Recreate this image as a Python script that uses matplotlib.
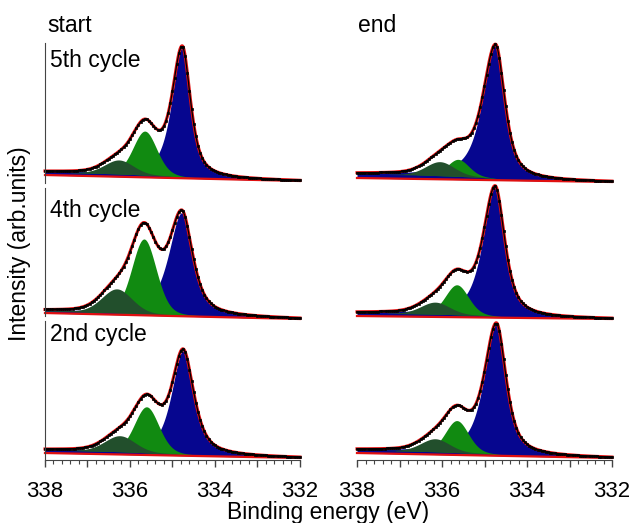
import numpy as np
import matplotlib
matplotlib.use('Agg')
import matplotlib.pyplot as plt
from matplotlib.ticker import MultipleLocator

plt.rcParams['font.family'] = ['Liberation Sans', 'DejaVu Sans']

# ---------------- data ----------------
column_titles = ['start', 'end']
row_labels = ['5th cycle', '4th cycle', '2nd cycle']
x_tick_values = [338, 337, 336, 335, 334, 333, 332]
x_tick_labels = ['338', '', '336', '', '334', '', '332']
x_label = 'Binding energy (eV)'
y_label = 'Intensity (arb.units)'

# indices: [row][col]; rows = 5th, 4th, 2nd cycle; cols = start, end
blue_center = [[334.77, 334.74], [334.78, 334.75], [334.75, 334.72]]
blue_height = [[130, 134], [103, 130], [104, 131]]
blue_hw_left = [[0.29, 0.36], [0.37, 0.34], [0.32, 0.34]]
blue_hw_right = [[0.23, 0.26], [0.30, 0.27], [0.30, 0.27]]

green_center = [[335.65, 335.62], [335.67, 335.65], [335.61, 335.65]]
green_height = [[44, 17], [75, 30], [46, 32]]
green_hw = [[0.33, 0.30], [0.34, 0.32], [0.34, 0.32]]

dkgreen_center = [[336.26, 336.05], [336.31, 336.16], [336.24, 336.16]]
dkgreen_height = [[14, 14], [24, 12], [16, 13]]
dkgreen_hw = [[0.40, 0.40], [0.42, 0.40], [0.42, 0.40]]

shirley_step = [[3, 4], [2, 3], [3, 3]]
baseline_tilt = [[6, 4], [6, 3], [5, 5]]

# ---------------- layout (pixels) ----------------
W, H = 634, 523
col_left = [45, 357]
col_width = 255
row_box = [(43, 183), (188, 316), (321, 460)]
row_base = [[181, 182], [319, 319], [458, 458]]

C_BLUE = '#06068f'
C_GREEN = '#118a11'
C_DKGREEN = '#224f2c'
C_RED = '#e01010'

FS = 16.5


def pv(E, c, h, w, eta):
    x2 = ((E - c) / w) ** 2
    return h * (eta / (1.0 + x2) + (1.0 - eta) * np.exp(-np.log(2) * x2))


def blue_peak(E, c, h, wl, wr):
    w = np.where(E >= c, wl, wr)
    return pv(E, c, h, w, 0.7)


fig = plt.figure(figsize=(W / 100, H / 100), dpi=100)

E = np.linspace(332, 338, 1201)
Ed = np.arange(332, 338.0001, 0.05)

for r in range(3):
    top, bot = row_box[r]
    for c in range(2):
        ax = fig.add_axes([col_left[c] / W, 1 - bot / H, col_width / W, (bot - top) / H])
        yb = row_base[r][c]
        ax.set_ylim(-(bot - yb), yb - top)
        ax.set_xlim(338, 332)

        def comps(x):
            b = blue_peak(x, blue_center[r][c], blue_height[r][c],
                          blue_hw_left[r][c], blue_hw_right[r][c])
            g = pv(x, green_center[r][c], green_height[r][c], green_hw[r][c], 0.2)
            d = pv(x, dkgreen_center[r][c], dkgreen_height[r][c], dkgreen_hw[r][c], 0.2)
            return b, g, d

        b, g, d = comps(E)
        tot = b + g + d
        cum = np.cumsum(tot)
        bg = shirley_step[r][c] * cum / cum[-1]
        red = baseline_tilt[r][c] * (E - 332) / 6.0

        ax.fill_between(E, red, red + bg + b, color=C_BLUE, lw=0, clip_on=False)
        ax.fill_between(E, red + bg, red + bg + g, where=g > 0.3, color=C_GREEN, lw=0, clip_on=False)
        ax.fill_between(E, red + bg, red + bg + d, where=d > 0.3, color=C_DKGREEN, lw=0, clip_on=False)
        ax.plot(E, red, color=C_RED, lw=1.6, clip_on=False)
        ax.plot(E, red + bg + tot, color=C_RED, lw=2.2, clip_on=False)

        bd, gd, dd = comps(Ed)
        totd = bd + gd + dd
        bgd = np.interp(Ed, E, bg)
        redd = baseline_tilt[r][c] * (Ed - 332) / 6.0
        ax.plot(Ed, redd + bgd + totd, ls='-', lw=0.9, marker='s', ms=2.1, mew=0.5,
                color='black', mec='black', clip_on=False)

        for s in ['top', 'right']:
            ax.spines[s].set_visible(False)
        ax.spines['left'].set_visible(c == 0)
        ax.spines['left'].set_color('#444444')
        ax.set_yticks([])
        if r == 2:
            ax.spines['bottom'].set_color('#444444')
            ax.set_xticks(x_tick_values)
            ax.set_xticklabels(x_tick_labels, fontsize=16)
            ax.xaxis.set_minor_locator(MultipleLocator(0.2))
            ax.tick_params(axis='x', which='major', length=5, width=1, color='#444444', pad=10)
            ax.tick_params(axis='x', which='minor', length=3, width=0.8, color='#444444')
        else:
            ax.spines['bottom'].set_visible(False)
            ax.set_xticks([])
        ax.patch.set_alpha(0)

# texts
def ftext(x, y, s, **kw):
    fig.text(x / W, 1 - y / H, s, fontsize=FS, **kw)

ftext(47, 25, column_titles[0], ha='left', va='center')
ftext(358, 25, column_titles[1], ha='left', va='center')
ftext(50, 60, row_labels[0], ha='left', va='center')
ftext(50, 210, row_labels[1], ha='left', va='center')
ftext(50, 335, row_labels[2], ha='left', va='center')
ftext(328, 513, x_label, ha='center', va='center')
ftext(20, 244, y_label, ha='center', va='center', rotation=90)

fig.savefig('out.png', dpi=100)
